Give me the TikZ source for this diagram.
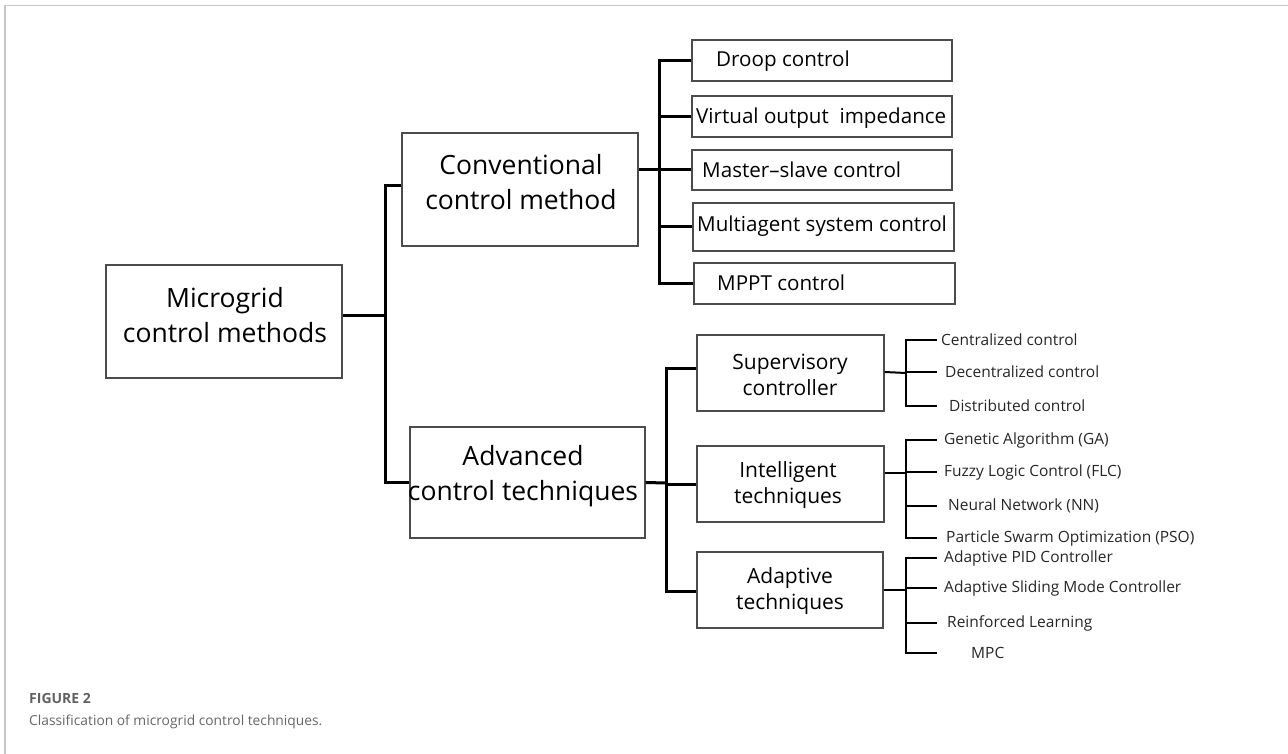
\documentclass[tikz,border=0pt]{standalone}
\usepackage{fontspec}
\setmainfont{Open Sans}
\newfontfamily\capfont{Open Sans}
\usetikzlibrary{fit}
\begin{document}
\begin{tikzpicture}[x=1pt,y=-1pt,
  box/.style={draw=black!70,line width=1.3pt,inner sep=0pt},
  bigtxt/.style={font=\fontsize{26.5}{35}\selectfont,align=center,inner sep=0pt},
  midtxt/.style={font=\fontsize{21}{26}\selectfont,align=center,inner sep=0pt},
  cleaf/.style={font=\fontsize{20.6}{24}\selectfont,anchor=west,inner sep=0pt},
  sleaf/.style={font=\fontsize{15.5}{18}\selectfont,anchor=west,inner sep=0pt,text=black!85},
  trunk/.style={line width=3pt,black},
  branch/.style={line width=2pt,black},
  frame/.style={line width=1.5pt,black!22}]
\useasboundingbox (0,0) rectangle (1288,754);
\draw[frame] (4,5.5) -- (1288,5.5);
\draw[frame] (5,5) -- (5,754);

% main boxes
\node[box,fit={(106,265) (342,378)}] (root) {};
\node[bigtxt] (roott) at (225,315) {Microgrid\\control methods};
\node[box,fit={(402,133) (638,246)}] (conv) {};
\node[bigtxt] (convt) at (521,182) {Conventional\\control method};
\node[box,fit={(410,427) (645,538)}] (adv) {};
\node[bigtxt] (advt) at (523,476) {Advanced\\control techniques};

% conventional leaves
\node[box,fit={(692,40) (952,81)}] (b1) {};
\node[box,fit={(692,96) (952,137)}] (b2) {};
\node[box,fit={(692,150) (952,190)}] (b3) {};
\node[box,fit={(693,203) (954,251)}] (b4) {};
\node[box,fit={(694,263) (955,304)}] (b5) {};
\node[cleaf] (t1) at (716,61) {Droop control};
\node[cleaf] (t2) at (696,118) {Virtual output\ \ impedance};
\node[cleaf] (t3) at (702,170) {Master--slave control};
\node[cleaf] (t4) at (697,226) {Multiagent system control};
\node[cleaf] (t5) at (717,283) {MPPT control};

% advanced sub boxes
\node[box,fit={(697,335) (884,411)}] (sup) {};
\node[midtxt] (supt) at (790,375) {Supervisory\\controller};
\node[box,fit={(697,446) (884,522)}] (int) {};
\node[midtxt] (intt) at (788,485) {Intelligent\\techniques};
\node[box,fit={(697,552) (883,628)}] (adp) {};
\node[midtxt] (adpt) at (790,591) {Adaptive\\techniques};

% small leaves
\node[sleaf] (s1) at (941,340) {Centralized control};
\node[sleaf] (s2) at (945,372) {Decentralized control};
\node[sleaf] (s3) at (949,406) {Distributed control};
\node[sleaf] (i1) at (944,440) {Genetic Algorithm (GA)};
\node[sleaf] (i2) at (944,472) {Fuzzy Logic Control (FLC)};
\node[sleaf] (i3) at (948,506) {Neural Network (NN)};
\node[sleaf] (i4) at (946,538) {Particle Swarm Optimization (PSO)};
\node[sleaf] (a1) at (944,558) {Adaptive PID Controller};
\node[sleaf] (a2) at (944,588) {Adaptive Sliding Mode Controller};
\node[sleaf] (a3) at (947,623) {Reinforced Learning};
\node[sleaf] (a4) at (971,653) {MPC};

% junction coordinates
\coordinate (J0) at (385,315);
\coordinate (J1) at (659,170);
\coordinate (J2) at (666,483);
\coordinate (JS) at (906,0);
\coordinate (LE) at (937,0);

% root level
\draw[trunk] ([yshift=6.5pt]root.east) -- (J0);
\draw[trunk] ([yshift=3.5pt]conv.west) -| (J0) |- (adv.west);

% conventional
\draw[trunk] ([yshift=19.5pt]conv.east) -- (J1);
\draw[trunk] (b1.west) -| (J1) |- (b5.west);
\draw[trunk] (J1 |- b2.west) -- (b2.west);
\draw[trunk] (J1 |- b3.west) -- (b3.west);
\draw[trunk] (J1 |- b4.west) -- (b4.west);

% advanced
\draw[trunk] (adv.east) -- (J2);
\draw[trunk] ([yshift=5pt]sup.west) -| (J2) |- ([yshift=-1pt]adp.west);
\draw[trunk] (J2 |- int.west) -- (int.west);

% supervisory
\draw[branch] ([yshift=1pt]sup.east) -- (sup.east -| JS);
\draw[branch] (s1.west -| LE) -- (JS |- s1.west) -- (JS |- s3.west) -- (s3.west -| LE);
\draw[branch] (JS |- s2.west) -- (s2.west -| LE);

% intelligent
\draw[branch] ([yshift=11pt]int.east) -- ([yshift=11pt]int.east -| JS);
\draw[branch] (i1.west -| LE) -- (JS |- i1.west) -- (JS |- i4.west) -- (i4.west -| LE);
\draw[branch] (JS |- i2.west) -- (i2.west -| LE);
\draw[branch] (JS |- i3.west) -- (i3.west -| LE);

% adaptive
\draw[branch] (adp.east) -- (adp.east -| JS);
\draw[branch] (a1.west -| LE) -- (JS |- a1.west) -- (JS |- a4.west) -- (a4.west -| LE);
\draw[branch] (JS |- a2.west) -- (a2.west -| LE);
\draw[branch] (JS |- a3.west) -- (a3.west -| LE);

% caption
\node[anchor=west,inner sep=0pt,font=\capfont\bfseries\fontsize{14}{18}\selectfont,text=black!62] (fig) at (29,698) {FIGURE 2};
\node[anchor=west,inner sep=0pt,font=\capfont\fontsize{13.8}{17}\selectfont,text=black!60] (cap) at (29,722) {Classification of microgrid control techniques.};
\end{tikzpicture}
\end{document}
